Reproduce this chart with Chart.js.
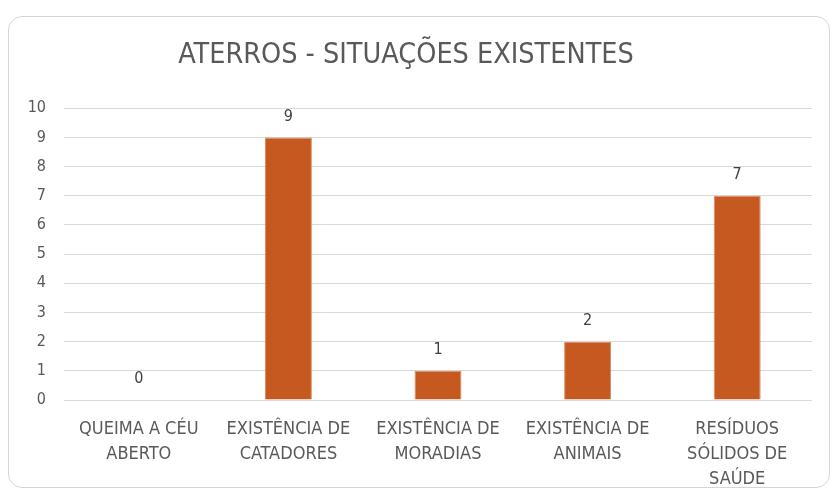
<!DOCTYPE html>
<html>
<head>
<meta charset="utf-8">
<script src="https://cdn.jsdelivr.net/npm/chart.js@4"></script>
<style>
  html, body { margin: 0; padding: 0; background: #fff; }
  #wrap { position: relative; width: 834px; height: 494px; }
  #frame {
    position: absolute; left: 8px; top: 16px; width: 822px; height: 472px;
    border: 1px solid #d6d6d6; border-radius: 14px; box-sizing: border-box;
  }
  canvas { position: absolute; left: 0; top: 0; }
</style>
</head>
<body>
<div id="wrap">
  <div id="frame"></div>
  <canvas id="chart1" width="834" height="494"></canvas>
</div>
<script>
const categories = [
  ['QUEIMA A CÉU', 'ABERTO'],
  ['EXISTÊNCIA DE', 'CATADORES'],
  ['EXISTÊNCIA DE', 'MORADIAS'],
  ['EXISTÊNCIA DE', 'ANIMAIS'],
  ['RESÍDUOS', 'SÓLIDOS DE', 'SAÚDE']
];
const values = [0, 9, 1, 2, 7];
const yMin = 0;
const yMax = 10;

const fontFam = "'Liberation Sans Narrow', 'DejaVu Sans Condensed', 'Open Sans', sans-serif";

const valueLabels = {
  id: 'valueLabels',
  afterDatasetsDraw(chart) {
    const ctx = chart.ctx;
    const meta = chart.getDatasetMeta(0);
    ctx.save();
    ctx.font = '16px ' + fontFam;
    ctx.fillStyle = '#404040';
    ctx.textAlign = 'center';
    ctx.textBaseline = 'middle';
    meta.data.forEach((bar, i) => {
      ctx.fillText(values[i], bar.x, bar.y - 21);
    });
    ctx.restore();
  }
};

chartIt();
function chartIt(){
  const ctx = document.getElementById('chart1').getContext('2d');
  new Chart(ctx, {
    type: 'bar',
    data: {
      labels: categories,
      datasets: [{
        data: values,
        backgroundColor: '#C5591F',
        borderColor: '#D98A5E',
        borderWidth: 1,
        categoryPercentage: 1,
        barPercentage: 0.314
      }]
    },
    options: {
      responsive: false,
      animation: false,
      layout: { padding: { left: 0, right: 22, top: 0, bottom: 0 } },
      plugins: {
        legend: { display: false },
        tooltip: { enabled: false },
        title: {
          display: true,
          text: 'ATERROS - SITUAÇÕES EXISTENTES',
          color: '#595959',
          font: { family: fontFam, size: 28.5, weight: 'normal', lineHeight: 1.2 },
          padding: { top: 38, bottom: 36 }
        }
      },
      scales: {
        x: {
          grid: { display: false, drawTicks: false },
          border: { display: false },
          ticks: {
            color: '#595959',
            font: { family: fontFam, size: 18, lineHeight: 1.39 },
            padding: 17,
            maxRotation: 0,
            autoSkip: false
          },
          afterFit(scale) { scale.height = 94; }
        },
        y: {
          min: yMin,
          max: yMax,
          grid: { color: '#d9d9d9', drawTicks: false },
          border: { display: false },
          ticks: {
            stepSize: 1,
            color: '#595959',
            font: { family: fontFam, size: 16 },
            padding: 18
          },
          afterFit(scale) { scale.width = 64; }
        }
      }
    },
    plugins: [valueLabels]
  });
}
</script>
</body>
</html>
